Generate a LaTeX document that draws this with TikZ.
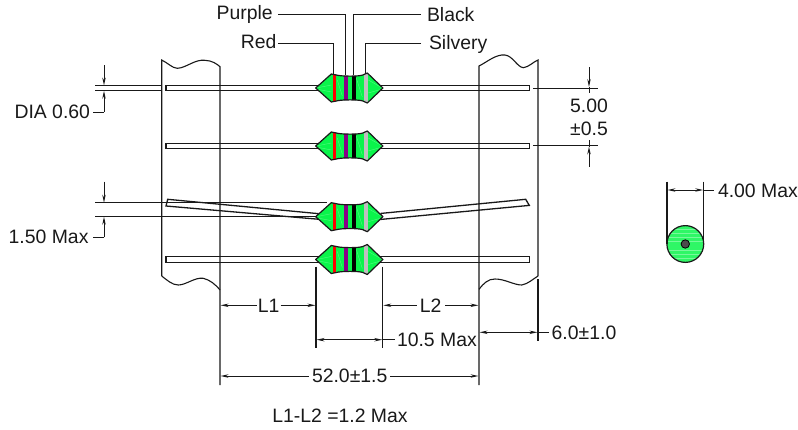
\documentclass[tikz,border=0pt]{standalone}
\usepackage{fontspec}
\setmainfont{Liberation Sans}
\usetikzlibrary{arrows.meta}
\definecolor{bodygreen}{RGB}{10,245,75}
\definecolor{bandpurple}{RGB}{135,0,135}
\definecolor{ink}{RGB}{25,25,25}
\tikzset{
  lbl/.style={font=\fontsize{19.4}{23}\selectfont,text=ink,inner sep=0pt,outer sep=0pt},
  dim/.style={draw=ink,line width=1pt},
  dimar/.style={dim,{Stealth[length=8pt,width=3.4pt]}-{Stealth[length=8pt,width=3.4pt]}},
  dimend/.style={dim,-{Stealth[length=8pt,width=3.4pt]}},
  dimstart/.style={dim,{Stealth[length=8pt,width=3.4pt]}-},
  tape/.style={draw=ink,line width=1.1pt},
  lead/.style={draw=ink,fill=white,line width=1.3pt},
  outline/.style={draw=ink,line width=1.2pt,line join=round},
}
\newcommand{\resbody}[1]{%
  \begin{scope}[shift={(349.3,#1)}]
    \path[fill=bodygreen] (-33.6,0) -- (-18,-14) -- (-13,-13) .. controls (-8,-11.5) and (10,-11.5) .. (13.5,-13) -- (18,-15) -- (33.6,0) -- (18,15) -- (13.5,13) .. controls (10,11.5) and (-8,11.5) .. (-13,13) -- (-18,14) -- cycle;
    \begin{scope}
      \clip (-33.6,0) -- (-18,-14) -- (-13,-13) .. controls (-8,-11.5) and (10,-11.5) .. (13.5,-13) -- (18,-15) -- (33.6,0) -- (18,15) -- (13.5,13) .. controls (10,11.5) and (-8,11.5) .. (-13,13) -- (-18,14) -- cycle;
      \fill[red] (-16.8,-15) rectangle (-13.2,15);
      \fill[bandpurple] (-5.2,-15) rectangle (-1.8,15);
      \fill[black] (3,-15) rectangle (6.2,15);
      \fill[black!25] (14.5,-16) rectangle (18.3,16);
      \draw[white,opacity=.3,line width=.4pt] (-33,0) -- (-18,-3) (-33,1) -- (-18,4) (-12,-8) -- (-7,8) (7,-10) -- (13,9) (19,-8) -- (33,0) (19,5) -- (33,1);
    \end{scope}
    \draw[outline] (-33.6,0) -- (-18,-14) -- (-13,-13) .. controls (-8,-11.5) and (10,-11.5) .. (13.5,-13) -- (18,-15) -- (33.6,0) -- (18,15) -- (13.5,13) .. controls (10,11.5) and (-8,11.5) .. (-13,13) -- (-18,14) -- cycle;
  \end{scope}}
\begin{document}
\begin{tikzpicture}[x=1pt,y=-1pt]
\useasboundingbox (0,0) rectangle (798,429);
% leads
\path[lead] (166,85.3) rectangle (529.3,90.8);
\path[lead] (166,143.3) rectangle (529.3,148.8);
\path[lead] (167.7,199.3) -- (318,213.6) -- (318,219.2) -- (166,206) -- cycle;
\path[lead] (381,213.4) -- (525.7,199.3) -- (529.3,205.4) -- (381,219.4) -- cycle;
\path[lead] (166,256.7) rectangle (529.3,262.3);
% tape
\draw[tape] (161.7,276) -- (161.7,60) .. controls (168,63) and (172,68) .. (177.3,68.3) .. controls (186,68) and (195,59) .. (205,60.3) .. controls (212,60.5) and (217,64) .. (220,66.7) -- (220,385);
\draw[tape] (161.7,276) .. controls (167,280) and (172,285) .. (178.3,285) .. controls (186,285) and (195,277) .. (203.3,278.3) .. controls (210,280) and (215,284) .. (220,290);
\draw[tape] (479,385) -- (479,66) .. controls (487,62) and (496,54) .. (505,55) .. controls (513,56) and (517,67) .. (523.3,67.7) .. controls (529,67) and (533,62) .. (538,60) -- (538,276);
\draw[tape] (479,289.3) .. controls (484,283) and (488,279) .. (495,279) .. controls (505,279) and (514,285) .. (521.7,285) .. controls (528,284) and (533,279) .. (538,276);
\draw[tape] (538,279) -- (538,341);
% extension lines on the left
\draw[dim] (95,85.5) -- (161,85.5) (95,90.8) -- (161,90.8);
\draw[dim] (95,202.7) -- (327,202.7) (95,216.7) -- (316,216.7);
% resistors
\resbody{88}
\resbody{146}
\resbody{216.7}
\resbody{259.5}
% colour labels
\node[lbl,anchor=east] (purple) at (272.7,14.5) {Purple};
\node[lbl,anchor=east] (red) at (276.5,41.5) {Red};
\node[lbl,anchor=west] (black) at (427,15) {Black};
\node[lbl,anchor=west] (silvery) at (429,44) {Silvery};
\coordinate (pu) at (345.7,75);
\coordinate (bl) at (353.7,75);
\coordinate (si) at (365.7,74);
\coordinate (re) at (333,74);
\draw[dim] (278.3,14.7) -| (pu);
\draw[dim] (421,14.7) -| (bl);
\draw[dim] (421,43.3) -| (si);
\draw[dim] (278,43.3) -| (re);
% DIA
\node[lbl,anchor=east] (dia) at (90,112) {DIA 0.60};
\coordinate (diaA) at (104,65);
\coordinate (diaT) at (104,85.5);
\coordinate (diaB) at (104,90.8);
\coordinate (diaE) at (104,112);
\draw[dimend] (diaA) -- (diaT);
\draw[dimend] (diaE) -- (diaB);
\draw[dim] (93,112) -- (diaE);
% 1.50 Max
\node[lbl,anchor=east] (onefive) at (88.5,237.3) {1.50 Max};
\coordinate (ofA) at (104,181.7);
\coordinate (ofT) at (104,202.7);
\coordinate (ofB) at (104,216.7);
\coordinate (ofE) at (104,237.3);
\draw[dimend] (ofA) -- (ofT);
\draw[dimend] (ofE) -- (ofB);
\draw[dim] (93,237.3) -- (ofE);
% 5.00
\draw[dim] (533.3,88) -- (597.7,88);
\draw[dim] (533.3,145.7) -- (597.7,145.7);
\coordinate (fvA) at (589,67.3);
\coordinate (fvB) at (589,93);
\coordinate (fvC) at (589,140);
\coordinate (fvD) at (589,166.7);
\draw[dimend] (fvA) -- (589,87);
\draw[dim] (589,87) -- (fvB);
\draw[dimend] (fvD) -- (589,146.5);
\draw[dim] (589,146.5) -- (fvC);
\node[lbl] (five) at (589,105.5) {5.00};
\node[lbl] (pm) at (589,129) {±0.5};
% dimension extension lines below
\draw[tape] (316,266.7) -- (316,348);
\draw[tape] (382.8,266.7) -- (382.8,348);
% L1 L2
\node[lbl] (Lone) at (268.7,305.5) {L1};
\node[lbl] (Ltwo) at (430.7,305.5) {L2};
\draw[dimstart] (220.5,305.3) -- (256.5,305.3);
\draw[dimend] (280.7,305.3) -- (315.5,305.3);
\draw[dimstart] (383.3,305.3) -- (416.7,305.3);
\draw[dimend] (445,305.3) -- (478.5,305.3);
% 10.5 Max
\node[lbl,anchor=west] (tenfive) at (397,340) {10.5 Max};
\draw[dimar] (316.5,339.7) -- (382.3,339.7);
\draw[dim] (382.3,339.7) -- (395,339.7);
% 52
\node[lbl] (ftwo) at (349.7,376) {52.0±1.5};
\draw[dimstart] (220.5,376) -- (309,376);
\draw[dimend] (390,376) -- (478.5,376);
% 6.0
\node[lbl,anchor=west] (six) at (551.7,332.5) {6.0±1.0};
\draw[dimar] (479.5,332.3) -- (537.5,332.3);
\draw[dim] (537.5,332.3) -- (548.5,332.3);
% note
\node[lbl] (note) at (340,416) {L1-L2 =1.2 Max};
% end view
\coordinate (endc) at (685.3,244);
\fill[bodygreen!85!white] (endc) circle (18.4);
\begin{scope}
\clip (endc) circle (18.4);
\foreach \yy in {229,233,237,241,250,254,258}
  \draw[white,opacity=.35,line width=.5pt] (665,\yy) -- (706,\yy);
\end{scope}
\draw[outline] (endc) circle (18.4);
\fill[black!70,draw=black,line width=.8pt] (endc) circle (4.2);
\draw[tape] (667,181.7) -- (667,244);
\draw[tape] (703.7,181.7) -- (703.7,244);
\draw[dimar] (667.5,190) -- (703.2,190);
\draw[dim] (703.2,190) -- (714,190);
\node[lbl,anchor=west] (fourmax) at (718,191) {4.00 Max};
\end{tikzpicture}
\end{document}
